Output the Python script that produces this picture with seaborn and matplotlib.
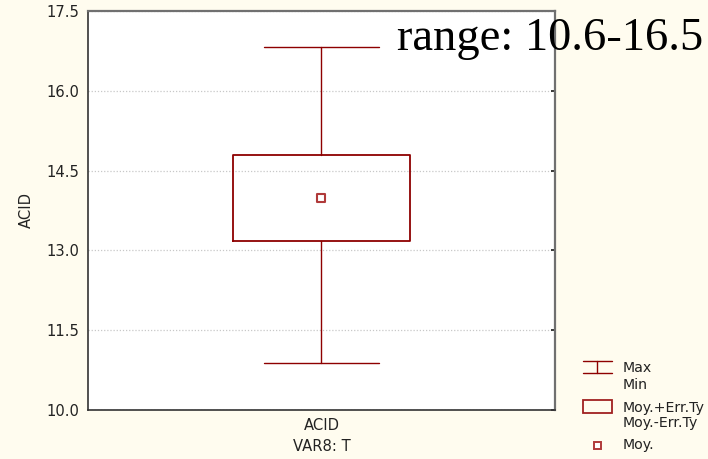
import matplotlib
matplotlib.use("Agg")
import matplotlib.pyplot as plt
from matplotlib.patches import Rectangle
from matplotlib.lines import Line2D
import seaborn as sns
import pandas as pd

# Summary statistics for the variable
categories = ["ACID"]
min_vals = [10.88]
max_vals = [16.82]
means = [13.99]
mean_minus_se = [13.18]
mean_plus_se = [14.80]
y_ticks = [10.0, 11.5, 13.0, 14.5, 16.0, 17.5]
range_text = "range: 10.6-16.5"
legend_labels = ["Max", "Min", "Moy.+Err.Ty", "Moy.-Err.Ty", "Moy."]

BG = "#FFFCEF"
RED = "#8E0000"
FS = 10.6
LEG_FS = 10.2

sns.set_theme(style="white")
plt.rcParams["font.family"] = ["DejaVu Sans"]

fig = plt.figure(figsize=(7.08, 4.59), dpi=100, facecolor=BG)
ax = fig.add_axes([88 / 708, 1 - 410 / 459, (555 - 88) / 708, (410 - 11) / 459])
ax.set_facecolor("white")

df = pd.DataFrame({"var": categories, "min": min_vals, "max": max_vals,
                   "mean": means, "lo": mean_minus_se, "hi": mean_plus_se})

stats = [dict(med=r["mean"], q1=r["lo"], q3=r["hi"], whislo=r["min"],
              whishi=r["max"], fliers=[], label=r["var"]) for _, r in df.iterrows()]
ax.bxp(stats, positions=list(range(len(stats))), widths=0.381, capwidths=0.246,
       showfliers=False, patch_artist=False,
       boxprops=dict(color=RED, linewidth=1.3),
       whiskerprops=dict(color=RED, linewidth=1.0),
       capprops=dict(color=RED, linewidth=1.0),
       medianprops=dict(linewidth=0))

sns.scatterplot(data=df, x=list(range(len(df))), y="mean", marker="s", s=40,
                facecolor="white", edgecolor="#B03A3A", linewidth=1.5,
                ax=ax, zorder=5, legend=False)

ax.set_xlim(-0.5, 0.5)
ax.set_ylim(10.0, 17.5)
ax.set_yticks(y_ticks)
ax.set_yticklabels([f"{t:.1f}" for t in y_ticks])
ax.set_xticks(range(len(categories)))
ax.set_xticklabels(categories)
ax.set_xlabel("VAR8: T", fontsize=FS, color="#222222", labelpad=4)
ax.set_ylabel("ACID", fontsize=FS, color="#222222", labelpad=9)
ax.tick_params(axis="both", labelsize=FS, colors="#222222")
ax.tick_params(axis="y", direction="in", length=3, right=True, pad=6)
ax.tick_params(axis="x", length=0, pad=6)
ax.yaxis.grid(True, linestyle=(0, (1, 1.5)), color="#C8C8C8", linewidth=0.9)
ax.xaxis.grid(False)
for side in ["left", "bottom"]:
    ax.spines[side].set_color("#333333")
    ax.spines[side].set_linewidth(1.2)
for side in ["top", "right"]:
    ax.spines[side].set_color("#707070")
    ax.spines[side].set_linewidth(1.6)

fig.text(397 / 708, 1 - 50 / 459, range_text, fontsize=33.5,
         family=["Liberation Serif", "DejaVu Serif"], color="black",
         ha="left", va="baseline", zorder=10)

# Legend panel drawn in pixel-based figure coordinates
lg = fig.add_axes([0, 0, 1, 1], facecolor="none")
lg.set_xlim(0, 708)
lg.set_ylim(459, 0)
lg.axis("off")
lg.add_line(Line2D([583, 612], [361, 361], color=RED, lw=1.0))
lg.add_line(Line2D([583, 612], [373, 373], color=RED, lw=1.0))
lg.add_line(Line2D([597, 597], [361, 373], color=RED, lw=1.0))
lg.add_patch(Rectangle((583, 400), 29, 13, fill=False, edgecolor="#A02020", lw=1.3))
lg.add_patch(Rectangle((593.5, 441.5), 7, 7, facecolor="white", edgecolor="#B03A3A", lw=1.4))
for ty, txt in zip([368, 385, 408, 423, 445], legend_labels):
    lg.text(623, ty, txt, fontsize=LEG_FS, color="#222222", ha="left", va="center")

fig.savefig("out.png", dpi=100, facecolor=BG)
